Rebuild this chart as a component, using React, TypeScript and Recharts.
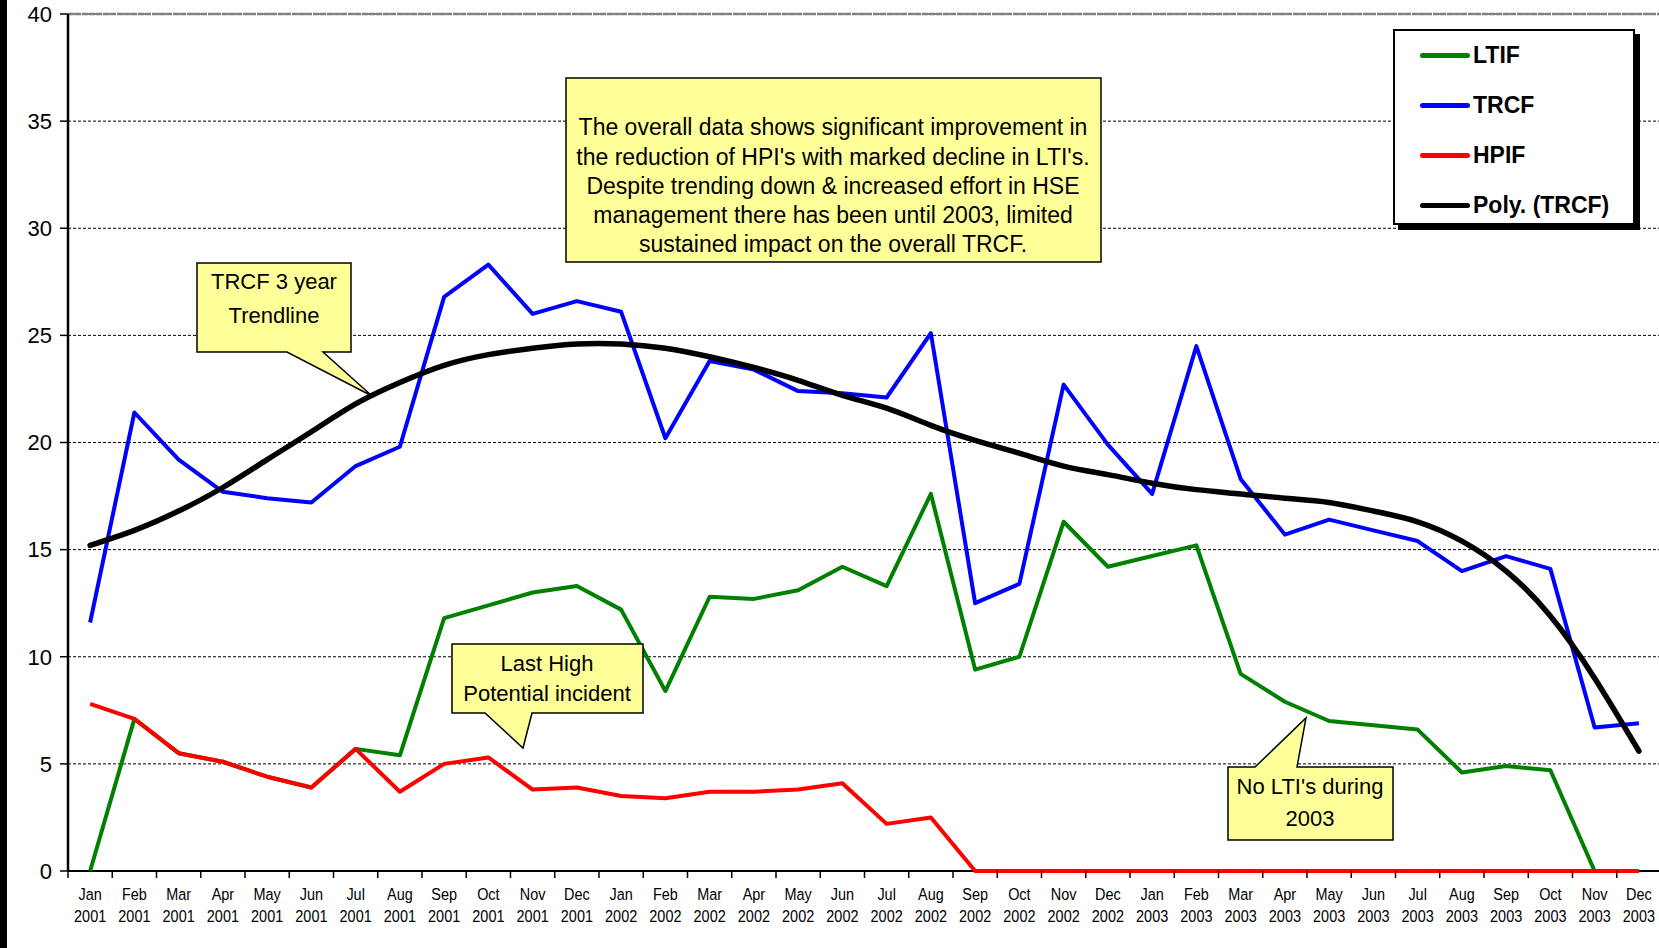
import React from 'react';
import { LineChart, Line, XAxis, YAxis, CartesianGrid, ReferenceLine, Legend } from 'recharts';

const months = [
  'Jan 2001', 'Feb 2001', 'Mar 2001', 'Apr 2001', 'May 2001', 'Jun 2001', 'Jul 2001', 'Aug 2001', 'Sep 2001', 'Oct 2001', 'Nov 2001', 'Dec 2001',
  'Jan 2002', 'Feb 2002', 'Mar 2002', 'Apr 2002', 'May 2002', 'Jun 2002', 'Jul 2002', 'Aug 2002', 'Sep 2002', 'Oct 2002', 'Nov 2002', 'Dec 2002',
  'Jan 2003', 'Feb 2003', 'Mar 2003', 'Apr 2003', 'May 2003', 'Jun 2003', 'Jul 2003', 'Aug 2003', 'Sep 2003', 'Oct 2003', 'Nov 2003', 'Dec 2003',
];

const ltif = [
  0, 7.1, 5.5, 5.1, 4.4, 3.9, 5.7, 5.4, 11.8, 12.4, 13.0, 13.3,
  12.2, 8.4, 12.8, 12.7, 13.1, 14.2, 13.3, 17.6, 9.4, 10.0, 16.3, 14.2,
  14.7, 15.2, 9.2, 7.9, 7.0, 6.8, 6.6, 4.6, 4.9, 4.7, 0, 0,
];

const trcf = [
  11.6, 21.4, 19.2, 17.7, 17.4, 17.2, 18.9, 19.8, 26.8, 28.3, 26.0, 26.6,
  26.1, 20.2, 23.8, 23.4, 22.4, 22.3, 22.1, 25.1, 12.5, 13.4, 22.7, 19.9,
  17.6, 24.5, 18.3, 15.7, 16.4, 15.9, 15.4, 14.0, 14.7, 14.1, 6.7, 6.9,
];

const hpif = [
  7.8, 7.1, 5.5, 5.1, 4.4, 3.9, 5.7, 3.7, 5.0, 5.3, 3.8, 3.9,
  3.5, 3.4, 3.7, 3.7, 3.8, 4.1, 2.2, 2.5, 0, 0, 0, 0,
  0, 0, 0, 0, 0, 0, 0, 0, 0, 0, 0, 0,
];

const polyTrcf = [
  15.2, 15.9, 16.8, 17.9, 19.2, 20.5, 21.8, 22.8, 23.6, 24.1, 24.4, 24.6,
  24.6, 24.4, 24.0, 23.5, 22.9, 22.2, 21.6, 20.8, 20.1, 19.5, 18.9, 18.5,
  18.1, 17.8, 17.6, 17.4, 17.2, 16.8, 16.3, 15.4, 14.0, 11.9, 9.0, 5.6,
];

const yTicks = [0, 5, 10, 15, 20, 25, 30, 35, 40];

const legendItems = [
  { name: 'LTIF', color: '#008000' },
  { name: 'TRCF', color: '#0000FF' },
  { name: 'HPIF', color: '#FF0000' },
  { name: 'Poly. (TRCF)', color: '#000000' },
];

const data = months.map((m, i) => ({
  month: m,
  LTIF: ltif[i],
  TRCF: trcf[i],
  HPIF: hpif[i],
  Poly: polyTrcf[i],
}));

const FONT = "'Liberation Sans', Arial, sans-serif";
const CHART_W = 1661;
const CHART_H = 948;
const Y_AXIS_W = 68;
const PLOT_W = CHART_W - Y_AXIS_W;
const BAND = PLOT_W / months.length;

const XTick = (props: any) => {
  const { x, y, payload } = props;
  const parts = String(payload.value).split(' ');
  const tx = x - BAND / 2;
  return (
    <g>
      <line x1={tx} x2={tx} y1={y} y2={y + 7} stroke="#000" strokeWidth={1.5} />
      <text transform={`translate(${x},${y + 29}) scale(0.85,1)`} textAnchor="middle" fontSize={17} fontFamily={FONT} fill="#000">
        {parts[0]}
      </text>
      <text transform={`translate(${x},${y + 51}) scale(0.85,1)`} textAnchor="middle" fontSize={17} fontFamily={FONT} fill="#000">
        {parts[1]}
      </text>
    </g>
  );
};

const LegendContent = () => (
  <div
    style={{
      position: 'relative',
      width: 242,
      height: 196,
      boxSizing: 'border-box',
      border: '2px solid #000',
      background: '#fff',
      boxShadow: '5px 5px 0 #000',
      fontFamily: FONT,
    }}
  >
    {legendItems.map((it, i) => (
      <div key={it.name} style={{ position: 'absolute', left: 25, top: 4 + i * 50, height: 40, display: 'flex', alignItems: 'center' }}>
        <div style={{ width: 50, height: 5, borderRadius: 3, background: it.color }} />
        <span style={{ fontSize: 23, fontWeight: 'bold', color: '#000', marginLeft: 3, whiteSpace: 'nowrap' }}>{it.name}</span>
      </div>
    ))}
  </div>
);

const calloutStyle = { fill: '#FFFF99', stroke: '#000', strokeWidth: 1.5 };

const Annotations = () => (
  <svg width={1659} height={948} style={{ position: 'absolute', left: 0, top: 0, pointerEvents: 'none' }}>
    <rect x={566} y={78} width={535} height={184} {...calloutStyle} />
    <g fontFamily={FONT} fontSize={23} fill="#000" textAnchor="middle" dominantBaseline="central">
      <text x={833} y={127}>The overall data shows significant improvement in</text>
      <text x={833} y={157}>the reduction of HPI's with marked decline in LTI's.</text>
      <text x={833} y={186}>Despite trending down &amp; increased effort in HSE</text>
      <text x={833} y={215}>management there has been until 2003, limited</text>
      <text x={833} y={244}>sustained impact on the overall TRCF.</text>
    </g>

    <path d="M197,263 H351 V352 H323 L372,396 L287,352 H197 Z" {...calloutStyle} />
    <g fontFamily={FONT} fontSize={22} fill="#000" textAnchor="middle" dominantBaseline="central">
      <text x={274} y={281}>TRCF 3 year</text>
      <text x={274} y={315}>Trendline</text>
    </g>

    <path d="M452,644 H643 V713 H532 L523,748 L485,713 H452 Z" {...calloutStyle} />
    <g fontFamily={FONT} fontSize={22} fill="#000" textAnchor="middle" dominantBaseline="central">
      <text x={547} y={663}>Last High</text>
      <text x={547} y={693}>Potential incident</text>
    </g>

    <path d="M1228,767 H1255 L1306,718 L1297,767 H1393 V840 H1228 Z" {...calloutStyle} />
    <g fontFamily={FONT} fontSize={22} fill="#000" textAnchor="middle" dominantBaseline="central">
      <text x={1310} y={786}>No LTI's during</text>
      <text x={1310} y={818}>2003</text>
    </g>
  </svg>
);

const axisBaseline = (p: any) => [p.offset.top + p.offset.height];

export default function App() {
  return (
    <div style={{ position: 'absolute', left: 0, top: 0, width: 1659, height: 948, overflow: 'hidden', background: '#fff' }}>
      <LineChart width={CHART_W} height={CHART_H} data={data} margin={{ top: 14, right: 0, bottom: 0, left: 0 }}>
        <CartesianGrid vertical={false} stroke="#000" strokeDasharray="3 2" strokeWidth={1} />
        <CartesianGrid vertical={false} stroke="#000" strokeWidth={2} horizontalCoordinatesGenerator={axisBaseline} />
        <ReferenceLine y={40} stroke="#808080" strokeWidth={2.5} strokeDasharray="6 1" />
        <XAxis
          dataKey="month"
          interval={0}
          height={77}
          padding={{ left: BAND / 2, right: BAND / 2 }}
          tickLine={false}
          tickSize={0}
          tickMargin={0}
          axisLine={false}
          tick={<XTick />}
        />
        <YAxis
          width={Y_AXIS_W}
          domain={[0, 40]}
          ticks={yTicks}
          interval={0}
          tickSize={8}
          tickMargin={8}
          tickLine={{ stroke: '#000', strokeWidth: 1.5 }}
          axisLine={{ stroke: '#000', strokeWidth: 2.5 }}
          tick={{ fontSize: 22, fill: '#000', fontFamily: FONT }}
        />
        <Legend
          layout="vertical"
          align="center"
          verticalAlign="middle"
          wrapperStyle={{ left: 1393, top: 29, width: 242, height: 196 }}
          content={<LegendContent />}
        />
        <Line type="linear" dataKey="LTIF" stroke="#008000" strokeWidth={4} dot={false} strokeLinejoin="round" isAnimationActive={false} />
        <Line type="linear" dataKey="TRCF" stroke="#0000FF" strokeWidth={4} dot={false} strokeLinejoin="round" isAnimationActive={false} />
        <Line type="linear" dataKey="HPIF" stroke="#FF0000" strokeWidth={4} dot={false} strokeLinejoin="round" isAnimationActive={false} />
        <Line type="natural" dataKey="Poly" name="Poly. (TRCF)" stroke="#000" strokeWidth={5.5} dot={false} strokeLinecap="round" isAnimationActive={false} />
      </LineChart>
      <div style={{ position: 'absolute', left: 0, top: 0, width: 7, height: 948, background: '#000' }} />
      <Annotations />
    </div>
  );
}
